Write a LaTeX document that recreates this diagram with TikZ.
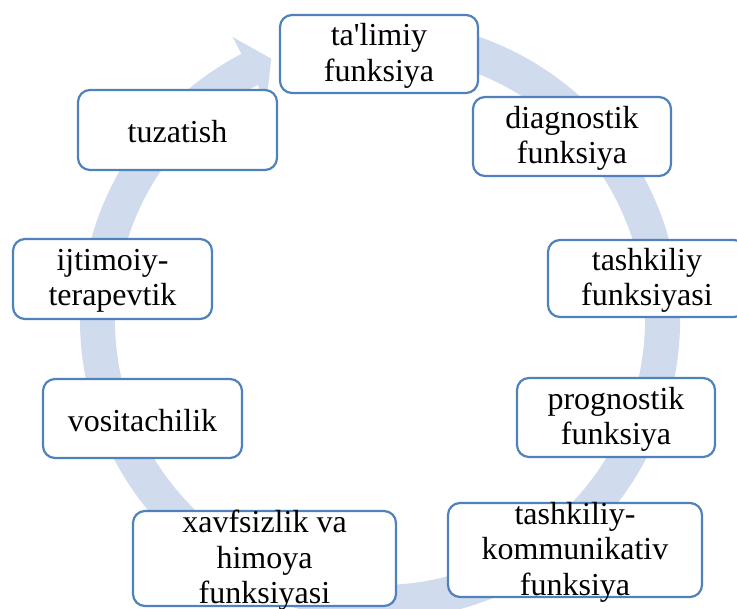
\documentclass[tikz,border=0pt]{standalone}
\usepackage{fontspec}
\setmainfont{Liberation Serif}[Ligatures=TeXOff]
\definecolor{ringblue}{HTML}{D0DBEE}
\definecolor{boxblue}{HTML}{4F81BD}

\begin{document}
\begin{tikzpicture}[x=1pt,y=1pt,
  fbox/.style={draw=boxblue, line width=2.2pt, fill=white, rounded corners=12pt,
    minimum width=198pt, minimum height=79pt, inner sep=0pt},
  ftext/.style={align=center, inner sep=0pt, yshift=-2pt,
    font=\fontsize{32}{35.5}\selectfont}]
  \useasboundingbox (0,0) rectangle (737,609);
  \clip (0,0) rectangle (737,609);

  % circular arrow behind the boxes
  \begin{scope}[shift={(380,289)}]
    \def\ro{300}% outer radius
    \def\ri{265}% inner radius
    \fill[ringblue] (100:\ro) arc [start angle=100, end angle=-242.5, radius=\ro]
      -- (-242.5:319) -- (-247.4:283) -- (-242.5:246) -- (-242.5:\ri)
      arc [start angle=-242.5, end angle=100, radius=\ri] -- cycle;
  \end{scope}

  % boxes
  \node[fbox, minimum height=78pt] (talim) at (379,555) {};
  \node[fbox] (diag) at (572,472.5) {};
  \node[fbox, minimum height=77pt] (tashk) at (647,330.5) {};
  \node[fbox] (prog) at (616,191.5) {};
  \node[fbox, minimum width=254pt, minimum height=94pt] (komm) at (575,59) {};
  \node[fbox, minimum width=263pt, minimum height=95pt] (xavf) at (264.5,50.5) {};
  \node[fbox, minimum width=199pt] (vosit) at (142.5,190.5) {};
  \node[fbox, minimum width=199pt, minimum height=80pt] (ijtim) at (112.5,330) {};
  \node[fbox, minimum width=199pt, minimum height=80pt] (tuzat) at (177.5,479) {};

  % texts
  \node[ftext] (talim-t) at (talim) {ta'limiy\\funksiya};
  \node[ftext] (diag-t) at (diag) {diagnostik\\funksiya};
  \node[ftext] (tashk-t) at (tashk) {tashkiliy\\funksiyasi};
  \node[ftext] (prog-t) at (prog) {prognostik\\funksiya};
  \node[ftext] (komm-t) at (komm) {tashkiliy-\\kommunikativ\\funksiya};
  \node[ftext] (xavf-t) at (xavf) {xavfsizlik va\\himoya\\funksiyasi};
  \node[ftext] (vosit-t) at (vosit) {vositachilik};
  \node[ftext] (ijtim-t) at (ijtim) {ijtimoiy-\\terapevtik};
  \node[ftext] (tuzat-t) at (tuzat) {tuzatish};
\end{tikzpicture}
\end{document}
